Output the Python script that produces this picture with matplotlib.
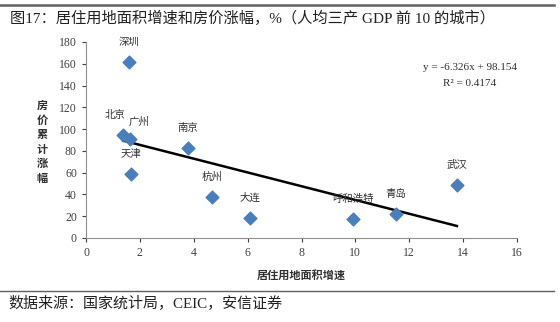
import numpy as np
import matplotlib.pyplot as plt
from matplotlib.lines import Line2D

plt.rcParams['font.family'] = ['Liberation Serif', 'Noto Sans CJK SC']

# data
cities = ['深圳', '北京', '广州', '天津', '南京', '杭州', '大连', '呼和浩特', '青岛', '武汉']
land_growth = [1.58, 1.38, 1.63, 1.67, 3.79, 4.67, 6.07, 9.9, 11.5, 13.77]
price_rise = [161.5, 95, 90.5, 58.5, 82.3, 37.8, 18.6, 17.4, 21.9, 48.4]
slope, intercept, r2 = -6.326, 98.154, 0.4174

fig = plt.figure(figsize=(5.6, 3.22), dpi=100)
fig.patch.set_facecolor('white')

# top / bottom rules
fig.add_artist(Line2D([0, 0.99], [1 - 5/322, 1 - 5/322], color='#606060', lw=1.8))
fig.add_artist(Line2D([0, 0.99], [1 - 291/322, 1 - 291/322], color='#606060', lw=1.0))
fig.text(10/560, 1 - 18/322, '图17：居住用地面积增速和房价涨幅，%（人均三产 GDP 前 10 的城市）',
         fontsize=11, va='center', ha='left', color='#202020')
fig.text(8/560, 1 - 303/322, '数据来源：国家统计局，CEIC，安信证券',
         fontsize=10.8, va='center', ha='left', color='#202020')

ax = fig.add_axes([86/560, 1 - 238/322, (517 - 86)/560, (238 - 42)/322])
ax.scatter(land_growth, price_rise, marker='D', s=42, color='#4A7EBB', zorder=3)

xs = np.array([min(land_growth), max(land_growth)])
ax.plot(xs, slope * xs + intercept, color='black', lw=1.8, zorder=2)

offs = {'北京': (-8, 20), '广州': (9, 18)}
for c, x, y in zip(cities, land_growth, price_rise):
    ax.annotate(c, (x, y), xytext=offs.get(c, (0, 20)), textcoords='offset pixels',
                ha='center', va='center', fontsize=7.5, color='#303030')

ax.text(470/560, 1 - 67/322, 'y = -6.326x + 98.154', transform=fig.transFigure,
        ha='center', va='center', fontsize=8, color='#303030')
ax.text(470/560, 1 - 83/322, 'R² = 0.4174', transform=fig.transFigure,
        ha='center', va='center', fontsize=8, color='#303030')

ax.set_xlim(0, 16)
ax.set_ylim(0, 180)
ax.set_xticks(np.arange(0, 17, 2))
ax.set_yticks(np.arange(0, 181, 20))
ax.tick_params(labelsize=8.5, colors='#404040', length=3, width=0.8)
for s in ['top', 'right']:
    ax.spines[s].set_visible(False)
for s in ['left', 'bottom']:
    ax.spines[s].set_color('#909090')
    ax.spines[s].set_linewidth(0.8)

ax.set_xlabel('居住用地面积增速', fontsize=8, fontweight='bold', color='#303030', labelpad=8)
fig.text(42/560, 1 - 142/322, '\n'.join('房价累计涨幅'), fontsize=8, fontweight='bold',
         ha='center', va='center', linespacing=1.55, color='#303030')

fig.savefig('out.png', dpi=100, facecolor='white')
